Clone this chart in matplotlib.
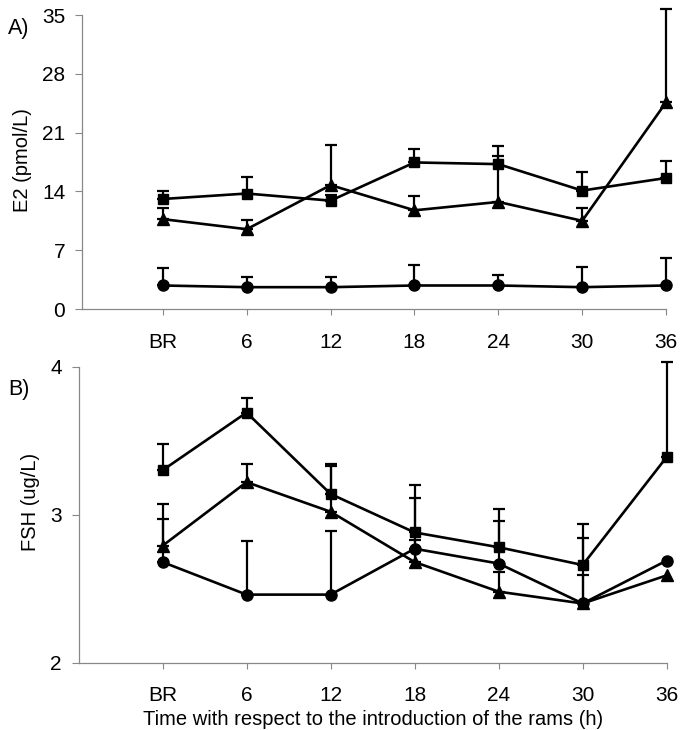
import numpy as np
import matplotlib
matplotlib.use("Agg")
import matplotlib.pyplot as plt

plt.rcParams["font.family"] = ["Liberation Sans", "DejaVu Sans"]

# -------------------------------
# data
# -------------------------------
times = ["BR", "6", "12", "18", "24", "30", "36"]

# A) E2 (pmol/L): mean and top of the error bar
e2_square = [13.1, 13.75, 12.9, 17.45, 17.25, 14.1, 15.6]
e2_square_top = [14.0, 15.7, 13.6, 19.05, 19.35, 16.3, 17.6]
e2_triangle = [10.7, 9.5, 14.75, 11.75, 12.75, 10.5, 24.6]
e2_triangle_top = [12.0, 10.6, 19.5, 13.4, 18.25, 12.0, 35.7]
e2_circle = [2.8, 2.6, 2.6, 2.8, 2.8, 2.6, 2.8]
e2_circle_top = [4.9, 3.8, 3.8, 5.2, 4.0, 5.0, 6.1]

# B) FSH (ug/L); nan = no error bar visible
fsh_square = [3.30, 3.69, 3.14, 2.88, 2.78, 2.66, 3.39]
fsh_square_top = [3.48, 3.79, 3.34, 3.20, 3.04, 2.94, 4.03]
fsh_triangle = [2.79, 3.22, 3.02, 2.68, 2.48, 2.40, 2.59]
fsh_triangle_top = [3.07, 3.34, 3.33, 2.83, 2.61, 2.59, np.nan]
fsh_circle = [2.68, 2.46, 2.46, 2.77, 2.67, 2.40, 2.69]
fsh_circle_top = [2.97, 2.82, 2.89, 3.11, 2.96, 2.84, np.nan]

x = np.arange(1, len(times) + 1)

styles = {"s": 7.5, "^": 8.5, "o": 8}


def draw_series(ax, vals, tops, marker):
    vals = np.array(vals, dtype=float)
    tops = np.array(tops, dtype=float)
    ok = ~np.isnan(tops)
    ax.errorbar(x[ok], vals[ok], yerr=[np.zeros(ok.sum()), tops[ok] - vals[ok]],
                fmt="none", ecolor="black", elinewidth=1.6, capsize=4.5,
                capthick=1.6, clip_on=False, zorder=2)
    ax.plot(x, vals, color="black", lw=1.9, marker=marker,
            ms=styles[marker], mfc="black", mec="black", clip_on=False, zorder=3)


def style_axes(ax):
    for s in ["top", "right"]:
        ax.spines[s].set_visible(False)
    for s in ["left", "bottom"]:
        ax.spines[s].set_color("#888888")
        ax.spines[s].set_linewidth(0.9)
    ax.set_xticks(x)
    ax.set_xticklabels(times)
    ax.tick_params(axis="x", length=4, color="#888888", pad=13, labelsize=15)
    ax.tick_params(axis="y", length=5, color="#888888", pad=7, labelsize=15)


fig = plt.figure(figsize=(6.85, 7.3), dpi=100)

# ---- A) E2 ----
axA = fig.add_axes([0.1197, 0.5767, 0.8526, 0.4027])
draw_series(axA, e2_square, e2_square_top, "s")
draw_series(axA, e2_triangle, e2_triangle_top, "^")
draw_series(axA, e2_circle, e2_circle_top, "o")
axA.set_xlim(0.035, 7)
axA.set_ylim(0, 35)
axA.set_yticks([0, 7, 14, 21, 28, 35])
style_axes(axA)
axA.set_ylabel("E2 (pmol/L)", fontsize=14.5)
axA.yaxis.set_label_coords(-0.086, 0.507)

# ---- B) FSH ----
axB = fig.add_axes([0.1146, 0.0922, 0.8587, 0.4055])
draw_series(axB, fsh_square, fsh_square_top, "s")
draw_series(axB, fsh_triangle, fsh_triangle_top, "^")
draw_series(axB, fsh_circle, fsh_circle_top, "o")
axB.set_xlim(0, 7)
axB.set_ylim(2, 4)
axB.set_yticks([2, 3, 4])
style_axes(axB)
axB.set_ylabel("FSH (ug/L)", fontsize=14.5)
axB.yaxis.set_label_coords(-0.066, 0.543)
axB.set_xlabel("Time with respect to the introduction of the rams (h)", fontsize=14.5)
axB.xaxis.set_label_coords(0.5, -0.16)

fig.text(0.0277, 0.9616, "A)", fontsize=15.5, ha="center", va="center")
fig.text(0.0277, 0.466, "B)", fontsize=15.5, ha="center", va="center")

fig.savefig("out.png", dpi=100)
